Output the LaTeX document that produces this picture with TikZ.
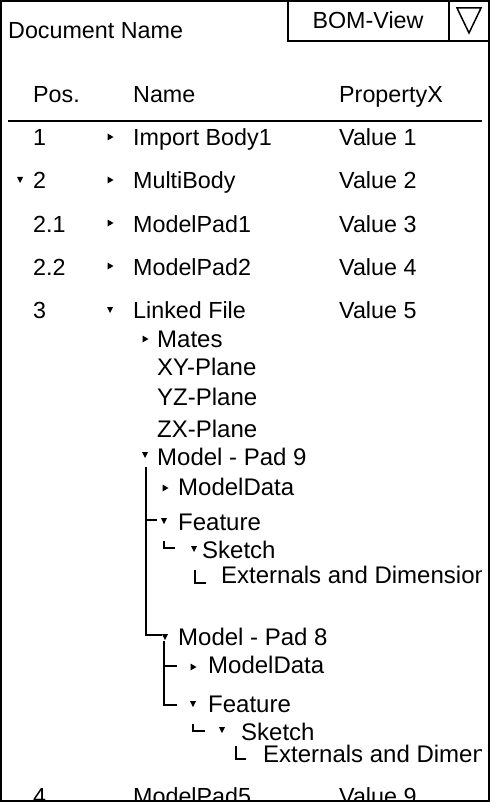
\documentclass[tikz,border=0pt]{standalone}
\usepackage{fontspec}
\setmainfont{Liberation Sans}

\begin{document}
\begin{tikzpicture}[x=1pt,y=-1pt,
  txt/.style={anchor=base west,inner sep=0pt,font=\fontsize{23.3}{28}\selectfont},
  treetxt/.style={txt,font=\fontsize{24}{28}\selectfont},
  frame/.style={line width=2pt},
  tree/.style={line width=2pt},
  elbow/.style={line width=1.5pt},
  opened/.pic={\fill (-3,-3)--(3,-3)--(0,3)--cycle;},
  closed/.pic={\fill (-2.5,-3.5)--(3.5,0)--(-2.5,3.5)--cycle;}]
 \useasboundingbox (0,0) rectangle (493,805);

 \begin{scope}
 \clip (3,3) rectangle (481,800);
 % header
 \node[txt] (docname) at (8,39) {Document Name};
 \node[txt] (hpos) at (33,103) {Pos.};
 \node[txt] (hname) at (133,103) {Name};
 \node[txt] (hprop) at (339,103) {PropertyX};
 % table rows
 \node[txt] (pos1) at (33,146) {1};
 \node[txt] (name1) at (133,146) {Import Body1};
 \node[txt] (val1) at (339,146) {Value 1};
 \node[txt] (pos2) at (33,189) {2};
 \node[txt] (name2) at (133,189) {MultiBody};
 \node[txt] (val2) at (339,189) {Value 2};
 \node[txt] (pos21) at (33,232) {2.1};
 \node[txt] (name21) at (133,232) {ModelPad1};
 \node[txt] (val21) at (339,232) {Value 3};
 \node[txt] (pos22) at (33,275) {2.2};
 \node[txt] (name22) at (133,275) {ModelPad2};
 \node[txt] (val22) at (339,275) {Value 4};
 \node[txt] (pos3) at (33,318) {3};
 \node[txt] (name3) at (133,318) {Linked File};
 \node[txt] (val3) at (339,318) {Value 5};
 % linked file tree
 \node[treetxt] (mates) at (157,347) {Mates};
 \node[treetxt] (xy) at (157,375) {XY-Plane};
 \node[treetxt] (yz) at (157,405) {YZ-Plane};
 \node[treetxt] (zx) at (157,437) {ZX-Plane};
 \node[treetxt] (pad9) at (157,465) {Model - Pad 9};
 \node[treetxt] (data9) at (178,495) {ModelData};
 \node[treetxt] (feat9) at (178,530) {Feature};
 \node[treetxt] (sketch9) at (202,558) {Sketch};
 \node[treetxt] (ext9) at (221,583) {Externals and Dimensions};
 \node[treetxt] (pad8) at (178,645) {Model - Pad 8};
 \node[treetxt] (data8) at (208,673) {ModelData};
 \node[treetxt] (feat8) at (208,712) {Feature};
 \node[treetxt] (sketch8) at (241,740) {Sketch};
 \node[treetxt] (ext8) at (263,762) {Externals and Dimensions};
 \node[txt] (pos4) at (33,804) {4};
 \node[txt] (name4) at (133,804) {ModelPad5};
 \node[txt] (val4) at (339,804) {Value 9};
 \end{scope}

 % expand markers
 \pic at (110,137) {closed};
 \pic at (20,180) {opened};
 \pic at (110,180) {closed};
 \pic at (110,223) {closed};
 \pic at (110,266) {closed};
 \pic at (110,310) {opened};
 \pic at (145,339) {closed};
 \pic at (145,455) {opened};
 \pic at (165,488) {closed};
 \pic at (164,521) {opened};
 \pic at (194,549) {opened};
 \pic at (165,637) {opened};
 \pic at (193,667) {closed};
 \pic at (193,704) {opened};
 \pic at (222,730) {opened};

 % tree lines
 \coordinate (top9) at (146,467);
 \coordinate (end9) at (162,635);
 \coordinate (tick9) at (157,520);
 \coordinate (top8) at (164,641);
 \coordinate (tickd8) at (177,666);
 \coordinate (end8) at (177,705);
 \draw[tree] (top9) |- (end9);
 \draw[tree] (top9 |- tick9) -- (tick9);
 \draw[tree] (top8) |- (end8);
 \draw[tree] (top8 |- tickd8) -- (tickd8);
 \coordinate (sk9a) at (164,541);
 \coordinate (sk9b) at (175,548);
 \coordinate (ex9a) at (195,570);
 \coordinate (ex9b) at (206,583);
 \coordinate (sk8a) at (193,724);
 \coordinate (sk8b) at (205,731);
 \coordinate (ex8a) at (236,746);
 \coordinate (ex8b) at (246,759);
 \draw[elbow] (sk9a) |- (sk9b);
 \draw[elbow] (ex9a) |- (ex9b);
 \draw[elbow] (sk8a) |- (sk8b);
 \draw[elbow] (ex8a) |- (ex8b);

 % header rule and frames
 \coordinate (ruleL) at (8,121);
 \coordinate (ruleR) at (482,121);
 \draw[frame] (ruleL) -- (ruleR);
 \draw[frame] (1,1) rectangle (489,801);
 \draw[frame] (288,1) rectangle (449,41);
 \node[anchor=base,inner sep=0pt,font=\fontsize{23.3}{28}\selectfont] (bomview) at (368,29) {BOM-View};
 \draw[frame] (449,1) rectangle (489,41);
 \draw[line width=1.5pt,line join=miter] (457,8) -- (481,8) -- (469,33) -- cycle;
\end{tikzpicture}
\end{document}
